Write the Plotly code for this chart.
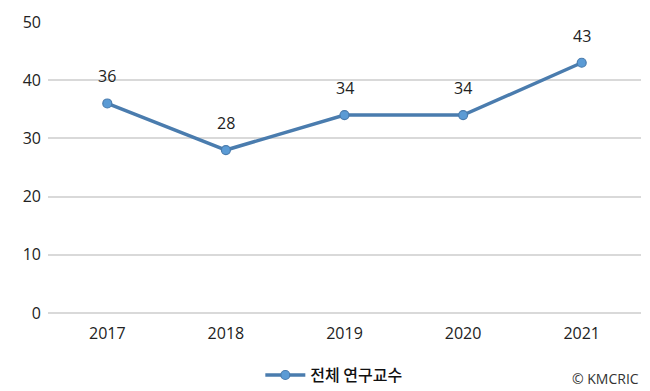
import plotly.graph_objects as go

years = ["2017", "2018", "2019", "2020", "2021"]
values = [36, 28, 34, 34, 43]
series_name = "전체 연구교수"

fig = go.Figure()
fig.add_trace(go.Scatter(
    x=years, y=values, mode="lines+markers", name=series_name,
    line=dict(color="#4a7cae", width=3.5),
    marker=dict(size=9, color="#5b9bd5", line=dict(color="#4a7cae", width=1.2)),
    cliponaxis=False,
))
annos = [dict(x=i, y=v, xref="x", yref="y", text=str(v), showarrow=False, yshift=27,
              font=dict(size=16, color="#222222", family="Open Sans"))
         for i, v in enumerate(values)]
annos.append(dict(text="© KMCRIC", xref="paper", yref="paper", x=1.0, y=-0.185,
                  xanchor="right", yanchor="top", showarrow=False,
                  font=dict(size=14, color="#333333", family="Open Sans")))
fig.update_layout(
    width=650, height=391,
    margin=dict(l=48, r=9, t=22, b=78, autoexpand=False),
    paper_bgcolor="white", plot_bgcolor="white",
    font=dict(family="Open Sans, Noto Sans CJK KR", size=16, color="#222222"),
    showlegend=True,
    legend=dict(orientation="h", x=0.482, xanchor="center", y=-0.155, yanchor="top",
                itemwidth=40,
                font=dict(size=16, family="Noto Sans CJK KR", color="#111111", weight=500)),
    xaxis=dict(type="category", range=[-0.5, 4.5], showgrid=False, showline=False,
               ticks="", tickfont=dict(size=16), ticklabelstandoff=9),
    yaxis=dict(range=[0, 50], dtick=10, showgrid=True, gridcolor="#d9d9d9", gridwidth=1.5,
               zeroline=True, zerolinecolor="#d9d9d9", zerolinewidth=1.5,
               ticks="", tickfont=dict(size=16), ticklabelstandoff=6),
    annotations=annos,
)
fig.write_html("out.html", config={"displayModeBar": False},
               post_script="document.body.style.margin='0';document.body.style.overflow='hidden';")
